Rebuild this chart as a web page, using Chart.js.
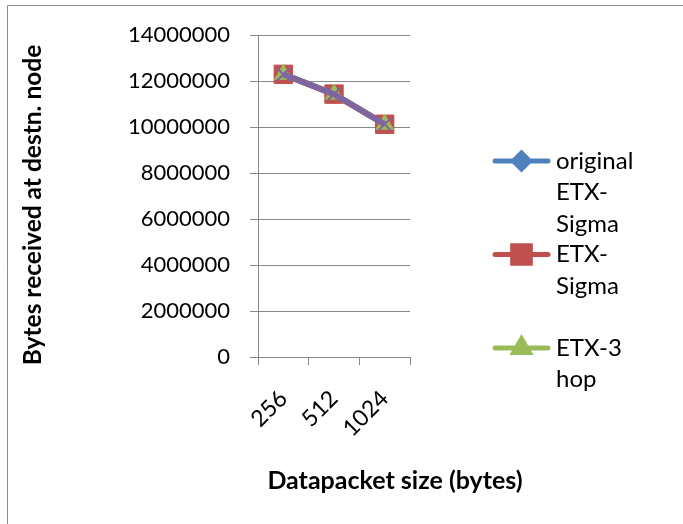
<!DOCTYPE html>
<html>
<head>
<meta charset="utf-8">
<script src="https://cdn.jsdelivr.net/npm/chart.js@4"></script>
<style>
  body { margin: 0; background: #fff; }
  canvas { display: block; }
</style>
</head>
<body>
<canvas id="chart" width="683" height="524"></canvas>
<script>
// packet sizes on the x axis
const packet_sizes = ['256', '512', '1024'];

// bytes received at the destination node, per routing metric
const original_etx_sigma = [12290000, 11430000, 10120000];
const etx_sigma          = [12290000, 11430000, 10120000];
const etx_3hop           = [12290000, 11430000, 10120000];
const series_4           = [12290000, 11430000, 10120000];

// legend text, already wrapped the way the picture shows it
const legend_lines = [
    ['original', 'ETX-', 'Sigma'],
    ['ETX-', 'Sigma'],
    ['ETX-3', 'hop']
];

const y_ticks_max  = 14000000;
const y_ticks_step = 2000000;

const x_title = 'Datapacket size (bytes)';
const y_title = 'Bytes received at destn. node';

const FONT = 'Lato, "Open Sans", sans-serif';

function make_dataset(label, data, color, style, radius, order) {
    return {
        label: label,
        data: data,
        borderColor: color,
        backgroundColor: color,
        borderWidth: 6,
        pointStyle: style,
        pointRadius: radius,
        pointBorderColor: color,
        pointBackgroundColor: color,
        pointBorderWidth: style == 'crossRot' ? 2 : 1,
        tension: 0,
        order: order
    };
}

// frame, axis titles and the wrapped legend
const extras = {
    id: 'extras',
    beforeDraw(chart) {
        const ctx = chart.ctx;
        ctx.save();
        ctx.strokeStyle = '#8c8c8c';
        ctx.lineWidth = 1;
        ctx.beginPath();
        ctx.moveTo(7.5, 524);
        ctx.lineTo(7.5, 5.5);
        ctx.lineTo(683, 5.5);
        ctx.stroke();
        ctx.restore();
    },
    afterDraw(chart) {
        const ctx = chart.ctx;
        ctx.save();
        ctx.fillStyle = '#000';
        ctx.textAlign = 'center';
        ctx.textBaseline = 'middle';
        ctx.font = 'bold 25px ' + FONT;
        ctx.fillText(x_title, 395, 481);

        ctx.font = 'bold 24.5px ' + FONT;
        ctx.translate(33, 205);
        ctx.rotate(-Math.PI / 2);
        ctx.fillText(y_title, 0, 0);
        ctx.restore();

        // legend
        ctx.save();
        ctx.font = '24px ' + FONT;
        ctx.textAlign = 'left';
        ctx.textBaseline = 'middle';
        const legend_radius = [8, 12.5, 9];
        legend_lines.forEach((lines, i) => {
            const ds = chart.data.datasets[i];
            const y = 161 + i * 93.5;
            ctx.strokeStyle = ds.borderColor;
            ctx.lineWidth = 5;
            ctx.lineCap = 'round';
            ctx.beginPath();
            ctx.moveTo(495, y);
            ctx.lineTo(548, y);
            ctx.stroke();
            ctx.fillStyle = ds.borderColor;
            Chart.helpers.drawPoint(ctx, {
                pointStyle: ds.pointStyle,
                radius: legend_radius[i],
                rotation: 0,
                borderWidth: 1
            }, 521.5, y);
            ctx.fillStyle = '#000';
            lines.forEach((t, j) => ctx.fillText(t, 556, y + j * 31.5));
        });
        ctx.restore();
    }
};

const config = {
    type: 'line',
    data: {
        labels: packet_sizes,
        datasets: [
            make_dataset('original ETX-Sigma', original_etx_sigma, '#4F81BD', 'rectRot', 9, 4),
            make_dataset('ETX-Sigma', etx_sigma, '#C0504D', 'rect', 13, 3),
            make_dataset('ETX-3 hop', etx_3hop, '#9BBB59', 'triangle', 10, 2),
            make_dataset('series 4', series_4, '#8064A2', 'crossRot', 9, 1)
        ]
    },
    options: {
        responsive: false,
        animation: false,
        layout: {
            padding: { top: 35, right: 273, bottom: 0, left: 0 }
        },
        plugins: {
            legend: { display: false },
            tooltip: { enabled: false }
        },
        scales: {
            x: {
                offset: true,
                grid: {
                    offset: true,
                    drawOnChartArea: false,
                    drawTicks: true,
                    tickLength: 8,
                    color: '#868686'
                },
                border: { color: '#868686' },
                ticks: {
                    color: '#000',
                    font: { family: FONT, size: 23 },
                    minRotation: 45,
                    maxRotation: 45,
                    padding: 20
                },
                afterFit(scale) { scale.height = 167; }
            },
            y: {
                min: 0,
                max: y_ticks_max,
                grid: {
                    color: '#868686',
                    tickLength: 8
                },
                border: { color: '#868686' },
                ticks: {
                    stepSize: y_ticks_step,
                    color: '#000',
                    font: { family: FONT, size: 22 },
                    padding: 20,
                    callback: (v) => String(v)
                },
                afterFit(scale) { scale.width = 258; }
            }
        }
    },
    plugins: [extras]
};

const chart = new Chart(document.getElementById('chart'), config);
</script>
</body>
</html>
